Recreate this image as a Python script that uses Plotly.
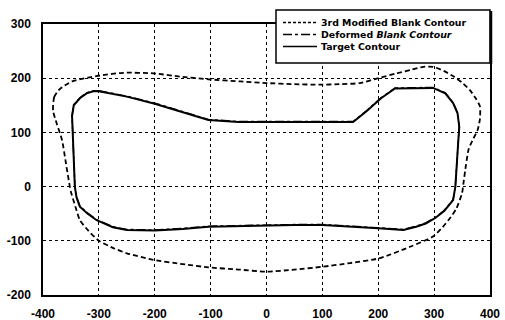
import plotly.graph_objects as go

# ---- data ----
target_x = [-300, -250, -200, -150, -104, -50, 0, 50, 100, 155, 180, 205, 230, 260, 298, 320, 334, 342, 345, 343, 340, 338, 334, 318, 302, 285, 268, 245, 200, 150, 100, 50, 0, -50, -104, -150, -200, -250, -275, -304, -320, -334, -340, -343, -345, -347, -348, -345, -334, -322, -310, -300]
target_y = [176, 166, 153, 138, 123, 119, 119, 119, 118, 119, 140, 163, 181, 182, 182, 172, 154, 135, 110, 80, 40, 0, -25, -45, -58, -68, -74, -80, -77, -74, -71, -71, -72, -73, -74, -78, -81, -80, -75, -62, -50, -37, -20, 0, 50, 100, 130, 150, 163, 172, 176, 176]

deformed_x = [-300, -250, -200, -150, -104, -50, 0, 50, 100, 155, 180, 205, 230, 260, 298, 320, 334, 342, 345, 343, 340, 338, 334, 318, 302, 285, 268, 245, 200, 150, 100, 50, 0, -50, -104, -150, -200, -250, -275, -304, -320, -334, -340, -343, -345, -347, -348, -345, -334, -322, -310, -300]
deformed_y = [177, 167, 154, 139, 124, 120, 120, 120, 119, 120, 141, 164, 182, 183, 183, 173, 155, 136, 111, 81, 41, 1, -24, -44, -57, -67, -73, -79, -76, -73, -70, -70, -71, -72, -73, -77, -80, -79, -74, -61, -49, -36, -19, 1, 51, 101, 131, 151, 164, 173, 177, 177]

modified_x = [-382, -380, -370, -348, -320, -298, -256, -203, -155, -104, -47, 0, 50, 96, 130, 167, 200, 233, 260, 281, 298, 318, 335, 350, 364, 375, 382, 382, 378, 370, 362, 357, 353, 350, 340, 330, 315, 298, 257, 203, 150, 99, 50, 0, -50, -104, -150, -203, -250, -275, -300, -320, -334, -342, -350, -352, -358, -366, -375, -382]
modified_y = [140, 165, 180, 194, 201, 205, 210, 209, 203, 198, 194, 191, 189, 188, 189, 191, 200, 209, 216, 221, 221, 213, 203, 192, 178, 162, 148, 125, 105, 88, 70, 40, 10, -12, -40, -56, -75, -92, -111, -132, -141, -148, -153, -157, -153, -149, -143, -135, -123, -113, -100, -80, -62, -37, -10, 0, 37, 86, 115, 140]

x_ticks = [-400, -300, -200, -100, 0, 100, 200, 300, 400]
y_ticks = [-200, -100, 0, 100, 200, 300]

legend_labels = ["3rd Modified Blank Contour", "Deformed <i>Blank Contour</i>", "Target Contour"]

FONT = "Liberation Sans, Arial, sans-serif"
LFONT = "DejaVu Sans, Liberation Sans, sans-serif"

fig = go.Figure()
fig.add_trace(go.Scatter(x=modified_x, y=modified_y, mode="lines",
                         line=dict(color="black", width=1.8, dash="5px,3px", shape="spline", smoothing=0.6),
                         name=legend_labels[0], showlegend=False))
fig.add_trace(go.Scatter(x=deformed_x, y=deformed_y, mode="lines",
                         line=dict(color="black", width=1.4, dash="dashdot"),
                         name="Deformed Blank Contour", showlegend=False))
fig.add_trace(go.Scatter(x=target_x, y=target_y, mode="lines",
                         line=dict(color="black", width=2),
                         name=legend_labels[2], showlegend=False))

L, R, T, B = 43, 15, 24, 25
W, H = 505, 320
pw, ph = W - L - R, H - T - B


def px(x):
    return (x - L) / pw


def py(y):
    return (H - B - y) / ph


shapes = [
    dict(type="rect", xref="paper", yref="paper", x0=px(276), x1=px(490), y0=py(63), y1=py(10),
         line=dict(color="black", width=1.5), fillcolor="white", layer="above"),
    dict(type="line", xref="paper", yref="paper", x0=px(491), x1=px(491), y0=py(64), y1=py(11),
         line=dict(color="black", width=2.5), layer="above"),
]
dashes = ["3px,2px", "dashdot", "solid"]
rows = [22.5, 34.5, 46.5]
annotations = []
for lab, d, r in zip(legend_labels, dashes, rows):
    shapes.append(dict(type="line", xref="paper", yref="paper", x0=px(283), x1=px(317), y0=py(r), y1=py(r),
                       line=dict(color="black", width=1.3, dash=d), layer="above"))
    annotations.append(dict(xref="paper", yref="paper", x=px(319), y=py(r), text=lab, showarrow=False,
                            xanchor="left", yanchor="middle",
                            font=dict(family=LFONT, size=9.4, color="black", weight="bold")))

fig.update_layout(
    width=W, height=H,
    margin=dict(l=L, r=R, t=T, b=B, pad=0),
    paper_bgcolor="white", plot_bgcolor="white",
    showlegend=False,
    shapes=shapes, annotations=annotations,
    font=dict(family=FONT, color="black"),
)
fig.update_xaxes(range=[-400, 400], tickvals=x_ticks, ticktext=[str(v) for v in x_ticks],
                 showgrid=True, gridcolor="black", gridwidth=1, griddash="dot",
                 zeroline=False, showline=True, linecolor="black", linewidth=1.5, mirror=True,
                 ticks="", ticklabelstandoff=7, automargin=False,
                 tickfont=dict(family=FONT, size=12, color="black", weight="bold"))
fig.update_yaxes(range=[-200, 300], tickvals=y_ticks, ticktext=[str(v) for v in y_ticks],
                 showgrid=True, gridcolor="black", gridwidth=1, griddash="dot",
                 zeroline=False, showline=True, linecolor="black", linewidth=1.5, mirror=True,
                 ticks="", ticklabelstandoff=8, automargin=False,
                 tickfont=dict(family=FONT, size=12, color="black", weight="bold"))

fig.write_html("out.html")
